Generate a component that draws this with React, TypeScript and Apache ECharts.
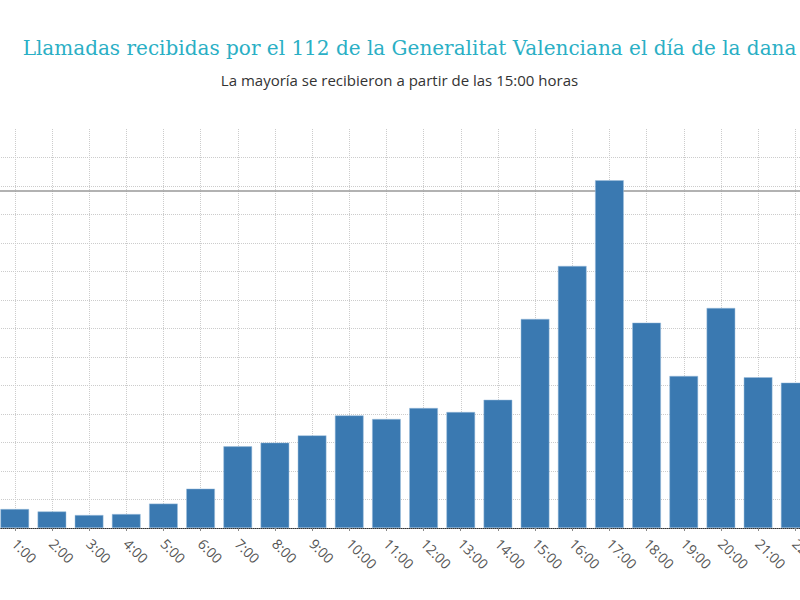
import React, { useEffect, useRef } from "react";
import * as echarts from "echarts";

const hours = [
  "0:00", "1:00", "2:00", "3:00", "4:00", "5:00", "6:00", "7:00", "8:00", "9:00", "10:00", "11:00",
  "12:00", "13:00", "14:00", "15:00", "16:00", "17:00", "18:00", "19:00", "20:00", "21:00", "22:00", "23:00",
];
const calls = [
  150, 133, 116, 91, 98, 171, 276, 573, 599, 650, 790, 765,
  842, 814, 900, 1467, 1839, 2440, 1441, 1067, 1544, 1058, 1020, 900,
];
const referenceValue = 2365;
const yMax = 2800;
const yInterval = 200;

const titleText = "Llamadas recibidas por el 112 de la Generalitat Valenciana el día de la dana";
const subtitleText = "La mayoría se recibieron a partir de las 15:00 horas";

// The chart is wider than the 800px window (cropped at both sides, as in the reference)
const OFFSET_LEFT = 41;
const CHART_WIDTH = 892;

export default function App() {
  const ref = useRef<HTMLDivElement>(null);
  useEffect(() => {
    if (!ref.current) return;
    document.body.style.overflow = "hidden";
    const chart = echarts.init(ref.current, null, { renderer: "svg" });
    chart.setOption({
      animation: false,
      backgroundColor: "#ffffff",
      title: [
        {
          text: titleText,
          left: 404.5 + OFFSET_LEFT,
          textAlign: "center",
          top: 33,
          textStyle: {
            fontFamily: "DejaVu Serif",
            fontSize: 20,
            fontWeight: "normal",
            color: "#2aafc5",
          },
        },
        {
          text: subtitleText,
          left: 394.5 + OFFSET_LEFT,
          textAlign: "center",
          top: 67,
          textStyle: {
            fontFamily: "Open Sans",
            fontSize: 15,
            fontWeight: "normal",
            color: "#333333",
          },
        },
      ],
      grid: {
        left: 0,
        right: 0,
        top: 129,
        bottom: 72,
        containLabel: false,
        outerBoundsMode: "none",
      },
      xAxis: [
        {
          type: "category",
          data: hours,
          boundaryGap: true,
          axisLine: { show: true, lineStyle: { color: "#333", type: "dotted", width: 1 } },
          axisTick: { show: true, alignWithLabel: true, length: 3, lineStyle: { color: "#888" } },
          axisLabel: {
            rotate: -45,
            margin: 13,
            fontFamily: "Open Sans",
            fontSize: 14,
            color: "#555",
          },
          splitLine: { show: false },
          z: 3,
        },
        {
          type: "value",
          min: -0.5,
          max: 23.5,
          splitNumber: 24,
          position: "bottom",
          axisLine: { show: false },
          axisTick: { show: false },
          axisLabel: { show: false },
          splitLine: { show: true, lineStyle: { color: "#cccccc", type: "dotted", width: 1 } },
        },
      ],
      yAxis: {
        type: "value",
        min: 0,
        max: yMax,
        interval: yInterval,
        axisLine: { show: false },
        axisTick: { show: false },
        axisLabel: { show: false },
        splitLine: {
          show: true,
          showMinLine: false,
          showMaxLine: false,
          lineStyle: { color: "#cccccc", type: "dotted", width: 1 },
        },
      },
      series: [
        {
          type: "bar",
          xAxisIndex: 0,
          data: calls,
          barCategoryGap: "23%",
          itemStyle: { color: "#3a79b1", borderColor: "#9dbedc", borderWidth: 0.5 },
          z: 2,
          markLine: {
            silent: true,
            z: 1,
            symbol: ["none", "none"],
            label: { show: false },
            lineStyle: { color: "#999999", type: "solid", width: 1.5 },
            data: [{ yAxis: referenceValue }],
          },
        },
      ],
    });
    return () => chart.dispose();
  }, []);
  return (
    <div
      ref={ref}
      style={{ position: "fixed", left: -OFFSET_LEFT, top: 0, width: CHART_WIDTH, height: 600 }}
    />
  );
}
